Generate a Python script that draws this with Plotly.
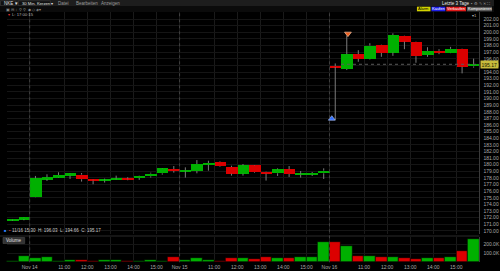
import plotly.graph_objects as go

# ---------------- data ----------------
times = (["11/13 15:00", "11/13 15:30"]
         + ["11/14 " + t for t in ["09:30", "10:00", "10:30", "11:00", "11:30", "12:00", "12:30",
                                   "13:00", "13:30", "14:00", "14:30", "15:00", "15:30"]]
         + ["11/15 " + t for t in ["09:30", "10:00", "10:30", "11:00", "11:30", "12:00", "12:30",
                                   "13:00", "13:30", "14:00", "14:30", "15:00", "15:30"]]
         + ["11/16 " + t for t in ["09:30", "10:00", "10:30", "11:00", "11:30", "12:00", "12:30",
                                   "13:00", "13:30", "14:00", "14:30", "15:00", "15:30"]])
day_names = {"11/14": "Nov 14", "11/15": "Nov 15", "11/16": "Nov 16"}

opens = [171.58, 171.76,
         175.08, 177.80, 178.05, 178.35, 178.50, 177.75, 177.60, 177.75, 177.90, 178.00, 178.25, 178.70, 179.35,
         179.00, 179.05, 180.00, 180.40, 179.65, 178.65, 179.90, 178.90, 178.70, 179.30, 178.50, 178.50, 178.70,
         194.90, 194.45, 196.70, 196.00, 198.10, 196.95, 199.45, 198.60, 196.60, 197.20, 196.90, 197.50, 194.85]
highs = [171.80, 172.10,
         178.30, 178.55, 178.85, 178.75, 178.75, 177.80, 177.90, 178.35, 178.10, 178.35, 178.80, 179.50, 179.80,
         179.60, 180.70, 180.60, 180.50, 179.85, 180.10, 179.95, 178.95, 179.45, 179.80, 179.05, 178.90, 179.45,
         195.30, 199.50, 197.30, 198.35, 198.15, 199.85, 199.50, 198.65, 197.75, 197.45, 197.80, 197.55, 196.03]
lows = [171.50, 171.60,
        175.05, 177.55, 178.00, 177.85, 177.45, 177.05, 177.30, 177.70, 177.65, 177.70, 178.05, 178.50, 178.80,
        178.05, 178.70, 179.10, 179.70, 178.35, 178.35, 178.75, 177.60, 178.30, 178.15, 178.05, 178.30, 177.85,
        186.75, 194.30, 195.55, 195.90, 196.30, 196.45, 197.45, 195.40, 196.30, 196.70, 196.85, 193.80, 194.66]
closes = [171.75, 172.06,
          177.95, 178.10, 178.45, 178.70, 177.80, 177.60, 177.75, 177.90, 177.75, 178.30, 178.65, 179.45, 179.05,
          179.15, 180.10, 180.25, 179.80, 178.65, 179.90, 178.85, 178.65, 179.30, 178.60, 178.62, 178.75, 179.10,
          194.75, 196.70, 196.00, 198.00, 196.90, 199.60, 198.60, 196.40, 197.20, 196.90, 197.50, 194.80, 195.17]
volumes_k = [14, 66,
             44, 59, 18, 26, 29, 11, 22, 22, 18, 11, 22, 15, 59,
             22, 48, 29, 18, 44, 44, 40, 59, 48, 51, 59, 59, 229,
             222, 177, 74, 70, 63, 63, 48, 40, 48, 48, 55, 129, 255]
price_ticks = list(range(170, 203))

marker_buy_x = [27.7]
marker_buy_price = [186.95]
marker_sell_x = [29.1]
marker_sell_price = [199.8]
last_price = 195.17

# ---------------- derived ----------------
n = len(times)
idx = list(range(n))
GREEN = "#00b000"
RED = "#dc0000"
up = [c >= o for o, c in zip(opens, closes)]
colors = [GREEN if u else RED for u in up]
body_base = [min(o, c) for o, c in zip(opens, closes)]
body_h = [abs(c - o) for o, c in zip(opens, closes)]

wx, wy = [], []
for i in idx:
    top = max(opens[i], closes[i])
    bot = min(opens[i], closes[i])
    if highs[i] > top:
        wx += [i, i, None]
        wy += [highs[i], top, None]
    if lows[i] < bot:
        wx += [i, i, None]
        wy += [bot, lows[i], None]

tickvals, ticktext, day_starts = [], [], []
for i, t in enumerate(times):
    d, hm = t.split(" ")
    if hm == "09:30" and d in day_names:
        tickvals.append(i - 0.5)
        ticktext.append(day_names[d])
        day_starts.append(i - 0.5)
    elif hm.endswith(":00") and int(hm[:2]) >= 11 and d in day_names:
        tickvals.append(i - 0.5)
        ticktext.append(hm)

W, H = 500, 271
def px(x):
    return x / W
def py(y):
    return 1 - y / H

FONT = "Liberation Sans"

fig = go.Figure()
fig.add_trace(go.Scatter(x=wx, y=wy, mode="lines", line=dict(color="#7c7c7c", width=1),
                         hoverinfo="skip", xaxis="x", yaxis="y"))
fig.add_trace(go.Bar(x=idx, y=body_h, base=body_base, width=1, marker=dict(color=colors, line=dict(width=0)),
                     xaxis="x", yaxis="y"))
fig.add_trace(go.Scatter(x=marker_buy_x, y=marker_buy_price, mode="markers",
                         marker=dict(symbol="triangle-up", size=6, color="#3070ff",
                                     line=dict(color="#c0d0ff", width=0.6)), xaxis="x", yaxis="y"))
fig.add_trace(go.Scatter(x=marker_sell_x, y=marker_sell_price, mode="markers",
                         marker=dict(symbol="triangle-down", size=6, color="#f06020",
                                     line=dict(color="#ffd0b0", width=0.6)), xaxis="x", yaxis="y"))
fig.add_trace(go.Bar(x=idx, y=[v * 1000 for v in volumes_k], width=1,
                     marker=dict(color=colors, line=dict(color="#000000", width=0.6)),
                     xaxis="x2", yaxis="y2"))

x_dom = [px(6.7), px(485.2)]
axis_font = dict(family=FONT, size=5, color="#a8a8a8")
fig.update_layout(
    width=W, height=H, margin=dict(l=0, r=0, t=0, b=0),
    paper_bgcolor="#000000", plot_bgcolor="#000000",
    showlegend=False, bargap=0,
    xaxis=dict(domain=x_dom, range=[-0.5, n - 0.5], tickvals=tickvals, showticklabels=False,
               showgrid=True, gridcolor="#1a1a1a", gridwidth=1, zeroline=False, anchor="y",
               showline=False),
    xaxis2=dict(domain=x_dom, range=[-0.5, n - 0.5], matches="x", tickvals=tickvals, ticktext=ticktext,
                tickfont=axis_font, showgrid=True, gridcolor="#1a1a1a", zeroline=False, anchor="y2",
                ticks="", ticklabelstandoff=1),
    yaxis=dict(domain=[py(234), py(12)], range=[169.53, 203.07], side="right", tickmode="array",
               tickvals=price_ticks, tickformat=".2f", tickfont=axis_font, showgrid=True,
               gridcolor="#151515", zeroline=False, anchor="x", ticks="", ticklabelstandoff=2,
               showline=True, linecolor="#3a3a3a", linewidth=1),
    yaxis2=dict(domain=[py(262.3), py(237)], range=[0, 281000], side="right", tickvals=[100000, 200000],
                ticktext=["100.0K", "200.0K"], tickfont=axis_font, showgrid=True, gridcolor="#151515",
                zeroline=False, anchor="x2", ticks="", ticklabelstandoff=2, showline=True,
                linecolor="#3a3a3a", linewidth=1),
)

shapes = []
# header bars
shapes.append(dict(type="rect", xref="paper", yref="paper", x0=0, x1=1, y0=py(6), y1=1,
                   fillcolor="#1d1d1d", line=dict(width=0), layer="above"))
shapes.append(dict(type="rect", xref="paper", yref="paper", x0=0, x1=1, y0=py(12), y1=py(6),
                   fillcolor="#0b0b0b", line=dict(width=0), layer="above"))
shapes.append(dict(type="rect", xref="paper", yref="paper", x0=px(0.5), x1=px(15.5), y0=py(5.6), y1=py(0.8),
                   fillcolor="#111111", line=dict(color="#444444", width=0.5), layer="above"))
shapes.append(dict(type="rect", xref="paper", yref="paper", x0=px(18.5), x1=px(51), y0=py(5.6), y1=py(0.8),
                   fillcolor="#111111", line=dict(color="#444444", width=0.5), layer="above"))
# panel separator
shapes.append(dict(type="line", xref="paper", yref="paper", x0=0, x1=px(485.2), y0=py(236), y1=py(236),
                   line=dict(color="#2a2a2a", width=1)))
# day separators
for d in day_starts:
    shapes.append(dict(type="line", xref="x", yref="paper", x0=d, x1=d, y0=py(262.3), y1=py(12),
                       line=dict(color="#404040", width=1, dash="dot")))
# last price line
shapes.append(dict(type="line", xref="x", yref="y", x0=28.5, x1=n - 0.5, y0=last_price, y1=last_price,
                   line=dict(color="#5a5a5a", width=1, dash="dot")))
# buttons
buttons = [("Alarm", 422, 435.7, "#d2d200", "#000000"),
           ("Kaufen", 436.7, 450.7, "#2020e8", "#ffffff"),
           ("Verkaufen", 451.7, 471.7, "#e01818", "#ffffff"),
           ("Komponieren", 472.7, 498, "#5a5a5a", "#ffffff")]
ann = []
for label, x0, x1, bg, fg in buttons:
    shapes.append(dict(type="rect", xref="paper", yref="paper", x0=px(x0), x1=px(x1), y0=py(11.3),
                       y1=py(6.7), fillcolor=bg, line=dict(width=0), layer="above"))
    ann.append(dict(text=label, x=px((x0 + x1) / 2), y=py(9), xref="paper", yref="paper", showarrow=False,
                    font=dict(family=FONT, size=4, color=fg), xanchor="center", yanchor="middle"))
# volume label box
shapes.append(dict(type="rect", xref="paper", yref="paper", x0=px(3), x1=px(25), y0=py(243.5), y1=py(237.5),
                   fillcolor="#333333", line=dict(color="#555555", width=0.5), layer="above"))
fig.update_layout(shapes=shapes)

def text(t, x, y, size=4.5, color="#cfcfcf", anchor="left", bg=None):
    d = dict(text=t, x=px(x), y=py(y), xref="paper", yref="paper", showarrow=False,
             font=dict(family=FONT, size=size, color=color), xanchor=anchor, yanchor="middle")
    if bg:
        d["bgcolor"] = bg
        d["borderpad"] = 0
    return d

ann += [
    text("NKE ▾", 2, 3.3, color="#e0e0e0"),
    text("30 Min. Kerzen ▾", 20, 3.3, size=4.2, color="#e0e0e0"),
    text("Datei", 57, 3.3, color="#9a9a9a"),
    text("Bearbeiten", 75, 3.3, color="#9a9a9a"),
    text("Anzeigen", 100, 3.3, color="#9a9a9a"),
    text("Letzte 3 Tage", 445, 3.3, color="#e8e8e8"),
    text("▪ ⚙ ✎ ✕ ⛶", 475, 3.3, size=4.2, color="#9a9a9a"),
    text("▣ ⊟ ↕ ⚲ ⚲  ◆ ◇ ◈▾", 4, 9.2, size=4.2, color="#8a8a8a"),
    text("▾", 6.5, 14.5, size=4.2, color="#e03030"),
    text("L: 17:00:15", 10, 14.5, size=4.2, color="#b0b0b0"),
    text("▾1", 476, 15, size=4.2, color="#b0b0b0"),
    text("■", 2, 230, size=4, color="#3080ff"),
    text("▪", 7, 230, size=4, color="#e03030"),
    text("11/16 15:30  H: 196.03  L: 194.66  C: 195.17", 10, 230, size=4.5, color="#c8c8c8"),
    text("Volume", 14, 240.5, size=4.5, color="#e0e0e0", anchor="center"),
]
# last price tag
ann.append(dict(text="195.17", x=px(486), y=last_price, xref="paper", yref="y", showarrow=False,
                font=dict(family=FONT, size=5, color="#202000"), xanchor="left", yanchor="middle",
                bgcolor="#c8bc3c", borderpad=0.5))
fig.update_layout(annotations=ann)

fig.write_html("out.html")
